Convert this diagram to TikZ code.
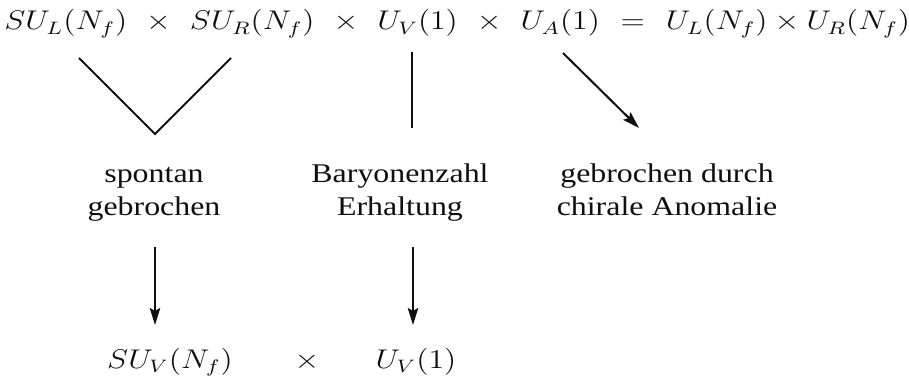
\documentclass[tikz,border=0pt]{standalone}
\usepackage{fontspec}
\setmainfont{Liberation Serif}[FakeStretch=1.18]
\usepackage{graphicx}
\usetikzlibrary{arrows.meta}
\definecolor{inkblack}{RGB}{15,15,15}
\newcommand{\wmath}[1]{\scalebox{1.18}[1]{$#1$}}
\newcommand{\gap}{\ \mkern1.4mu}

\begin{document}
\begin{tikzpicture}[x=0.444pt,y=0.444pt,font=\fontsize{12}{14.8}\selectfont,
  txt/.style={inner sep=0pt,text=inkblack,align=center},
  ln/.style={draw=inkblack,line width=0.9pt},
  arr/.style={ln,-{Stealth[length=7.5pt,width=4.6pt,inset=1.2pt]}}]
\useasboundingbox (0,0) rectangle (909,-389);
% symmetry group on top
\node[txt,anchor=base west] (group) at (4,-30)
  {\wmath{SU_L(N_f)\gap\times\gap SU_R(N_f)\gap\times\gap U_V(1)\gap\times\gap U_A(1)\gap=\gap U_L(N_f)\times U_R(N_f)}};
% connectors below the factors
\coordinate (vl) at (79,-58);
\coordinate (vb) at (155,-134);
\coordinate (vr) at (231,-58);
\draw[ln] (vl) -- (vb) -- (vr);
\coordinate (bt) at (412,-52);
\coordinate (bb) at (412,-128);
\draw[ln] (bt) -- (bb);
\coordinate (at) at (563,-53);
\coordinate (ab) at (639,-128);
\draw[arr] (at) -- (ab);
% labels (base = last line)
\node[txt,anchor=base] (spont) at (154,-216) {spontan\\gebrochen};
\node[txt,anchor=base] (baryon) at (400,-216) {Baryonenzahl\\Erhaltung};
\node[txt,anchor=base] (anom) at (667,-216) {gebrochen durch\\chirale Anomalie};
% arrows down
\coordinate (s1) at (155,-247);
\coordinate (e1) at (155,-325);
\draw[arr] (s1) -- (e1);
\coordinate (s2) at (413,-247);
\coordinate (e2) at (413,-325);
\draw[arr] (s2) -- (e2);
% remaining group
\node[txt,anchor=base] (suv) at (170,-368) {\wmath{SU_V(N_f)}};
\node[txt,anchor=base] (tm) at (307,-368) {\wmath{\times}};
\node[txt,anchor=base] (uv) at (416,-368) {\wmath{U_V(1)}};
\end{tikzpicture}
\end{document}
